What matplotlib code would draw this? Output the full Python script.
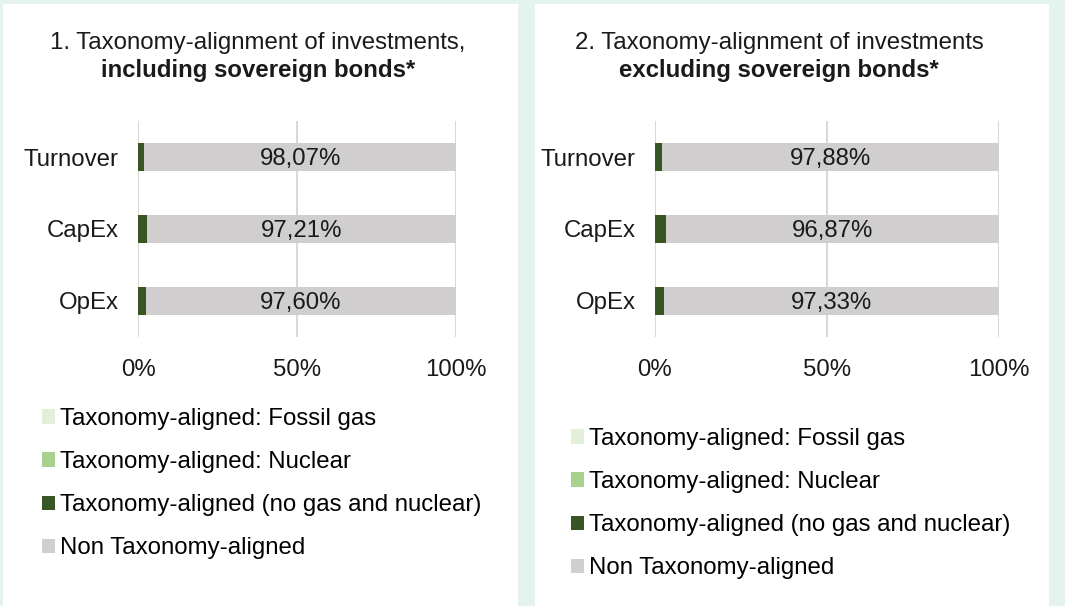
import numpy as np
import matplotlib
matplotlib.use("Agg")
import matplotlib.pyplot as plt
from matplotlib.patches import Rectangle, Patch

plt.rcParams['font.family'] = ['Liberation Sans', 'DejaVu Sans']

categories = ['OpEx', 'CapEx', 'Turnover']
# panel 1: including sovereign bonds
gas_1 = [0.0, 0.0, 0.0]
nuclear_1 = [0.0, 0.0, 0.0]
aligned_1 = [2.40, 2.79, 1.93]
non_aligned_1 = [97.60, 97.21, 98.07]
# panel 2: excluding sovereign bonds
gas_2 = [0.0, 0.0, 0.0]
nuclear_2 = [0.0, 0.0, 0.0]
aligned_2 = [2.67, 3.13, 2.12]
non_aligned_2 = [97.33, 96.87, 97.88]

legend_labels = ['Taxonomy-aligned: Fossil gas', 'Taxonomy-aligned: Nuclear',
                 'Taxonomy-aligned (no gas and nuclear)', 'Non Taxonomy-aligned']
colors = ['#e2f0d9', '#a9d18e', '#375623', '#d0cece']

W, H = 1065, 606
fig = plt.figure(figsize=(W / 100, H / 100), dpi=100, facecolor='#e4f3ee')

def px(x0, y0, x1, y1):
    return [x0 / W, 1 - y1 / H, (x1 - x0) / W, (y1 - y0) / H]

# white panel boxes
fig.patches.append(Rectangle((3 / W, 0), (518 - 3) / W, 1 - 4 / H, transform=fig.transFigure,
                             facecolor='white', edgecolor='none', zorder=-5))
fig.patches.append(Rectangle((535 / W, 0), (1049 - 535) / W, 1 - 4 / H, transform=fig.transFigure,
                             facecolor='white', edgecolor='none', zorder=-5))

fs = 17.3

def draw_panel(rect, gas, nuc, al, non):
    ax = fig.add_axes(rect)
    ax.set_zorder(2)
    y = np.arange(len(categories))
    h = 0.39
    left = np.zeros(len(categories))
    for vals, c in zip([gas, nuc, al, non], colors):
        ax.barh(y, vals, left=left, height=h, color=c, zorder=3)
        left = left + np.array(vals)
    base = np.array(gas) + np.array(nuc) + np.array(al)
    for yi, b, v in zip(y, base, non):
        ax.text(b + v / 2, yi, f'{v:.2f}'.replace('.', ',') + '%', ha='center',
                va='center_baseline', fontsize=fs, color='#1a1a1a', zorder=4)
    ax.set_xlim(0, 100)
    ax.set_ylim(-0.5, 2.5)
    ax.set_yticks(y)
    ax.set_yticklabels(categories, fontsize=fs, color='#1a1a1a')
    ax.set_xticks([0, 50, 100])
    ax.set_xticklabels(['0%', '50%', '100%'], fontsize=fs, color='#1a1a1a')
    ax.tick_params(length=0)
    ax.tick_params(axis='y', pad=14)
    ax.tick_params(axis='x', pad=15.5)
    ax.grid(axis='x', color='#d9d9d9', linewidth=1.5, zorder=0)
    for s in ax.spines.values():
        s.set_visible(False)
    ax.set_facecolor('none')
    return ax

draw_panel(px(138, 121, 456, 337), gas_1, nuclear_1, aligned_1, non_aligned_1)
draw_panel(px(655, 121, 999, 337), gas_2, nuclear_2, aligned_2, non_aligned_2)

fig.text(258 / W, 1 - 43 / H, '1. Taxonomy-alignment of investments,', ha='center', va='center',
         fontsize=fs, color='#1a1a1a')
fig.text(258 / W, 1 - 70 / H, 'including sovereign bonds*', ha='center', va='center',
         fontsize=fs, fontweight='bold', color='#1a1a1a')
fig.text(779 / W, 1 - 43 / H, '2. Taxonomy-alignment of investments', ha='center', va='center',
         fontsize=fs, color='#1a1a1a')
fig.text(779 / W, 1 - 70 / H, 'excluding sovereign bonds*', ha='center', va='center',
         fontsize=fs, fontweight='bold', color='#1a1a1a')

handles = [Patch(facecolor=c, edgecolor='none') for c in colors]
for x0, y0 in [(42, 408), (571, 428)]:
    fig.legend(handles, legend_labels, loc='upper left', bbox_to_anchor=(x0 / W, 1 - y0 / H),
               frameon=False, fontsize=fs, handlelength=0.55, handleheight=0.55,
               handletextpad=0.2, labelspacing=0.88, borderaxespad=0, borderpad=0)

fig.savefig('out.png', dpi=100, facecolor=fig.get_facecolor())
